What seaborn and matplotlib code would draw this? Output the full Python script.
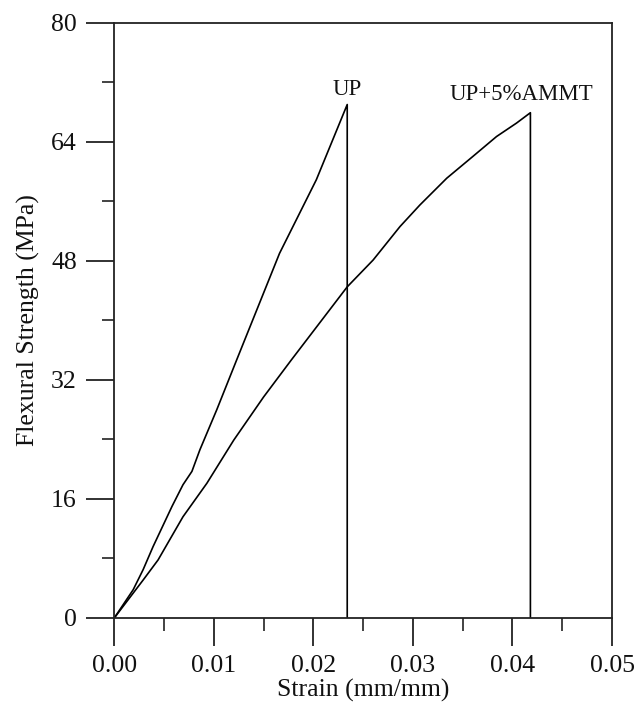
import numpy as np
import pandas as pd
import seaborn as sns
import matplotlib
matplotlib.use("Agg")
import matplotlib.pyplot as plt
from matplotlib.ticker import MultipleLocator, FormatStrFormatter

# values
up_strain = [0, 0.0019, 0.0029, 0.0039, 0.0058, 0.0069, 0.0078, 0.0086,
             0.0103, 0.0123, 0.0166, 0.0203, 0.0234, 0.0234]
up_stress = [0, 3.8, 6.5, 9.6, 15.0, 17.9, 19.7, 22.6,
             28.0, 34.7, 49.0, 58.9, 69.0, 0]

ammt_strain = [0, 0.0029, 0.0044, 0.0069, 0.0093, 0.0120, 0.0150, 0.0178,
               0.0234, 0.0260, 0.0287, 0.0307, 0.0334, 0.0360, 0.0384,
               0.0404, 0.0418, 0.0418]
ammt_stress = [0, 5.1, 7.8, 13.6, 18.1, 23.9, 29.7, 34.7,
               44.5, 48.1, 52.6, 55.5, 59.1, 62.0, 64.7,
               66.5, 67.9, 0]

labels = ["UP", "UP+5%AMMT"]
label_pos = [(0.0234, 69.6), (0.0409, 69.0)]

sns.set_style("ticks")
plt.rcParams['font.family'] = ['Liberation Serif', 'DejaVu Serif']

fig = plt.figure(figsize=(6.37, 7.04), dpi=100)
ax = fig.add_axes([0.1794, 0.1222, 0.7814, 0.8456])

df_up = pd.DataFrame({"strain": up_strain, "stress": up_stress})
df_am = pd.DataFrame({"strain": ammt_strain, "stress": ammt_stress})
sns.lineplot(data=df_up, x="strain", y="stress", sort=False, estimator=None,
             color="black", linewidth=1.2, ax=ax)
sns.lineplot(data=df_am, x="strain", y="stress", sort=False, estimator=None,
             color="black", linewidth=1.2, ax=ax)

for txt, (x, y) in zip(labels, label_pos):
    ax.text(x, y, txt, ha="center", va="bottom", fontsize=16.5, color="#111111")

ax.set_xlim(0, 0.05)
ax.set_ylim(0, 80)
ax.xaxis.set_major_locator(MultipleLocator(0.01))
ax.xaxis.set_minor_locator(MultipleLocator(0.005))
ax.yaxis.set_major_locator(MultipleLocator(16))
ax.yaxis.set_minor_locator(MultipleLocator(8))
ax.xaxis.set_major_formatter(FormatStrFormatter("%.2f"))

ax.tick_params(which="major", direction="out", length=20, width=1.3,
               labelsize=18.5, pad=7, colors="#222222", labelcolor="#111111")
ax.tick_params(which="minor", direction="out", length=9, width=1.2,
               colors="#222222")
for s in ax.spines.values():
    s.set_linewidth(1.3)
    s.set_color("#222222")

ax.set_xlabel("Strain (mm/mm)", fontsize=18.5, labelpad=1, color="#111111")
ax.set_ylabel("Flexural Strength (MPa)", fontsize=18.5, labelpad=8, color="#111111")

fig.savefig("out.png", dpi=100, facecolor="white")
